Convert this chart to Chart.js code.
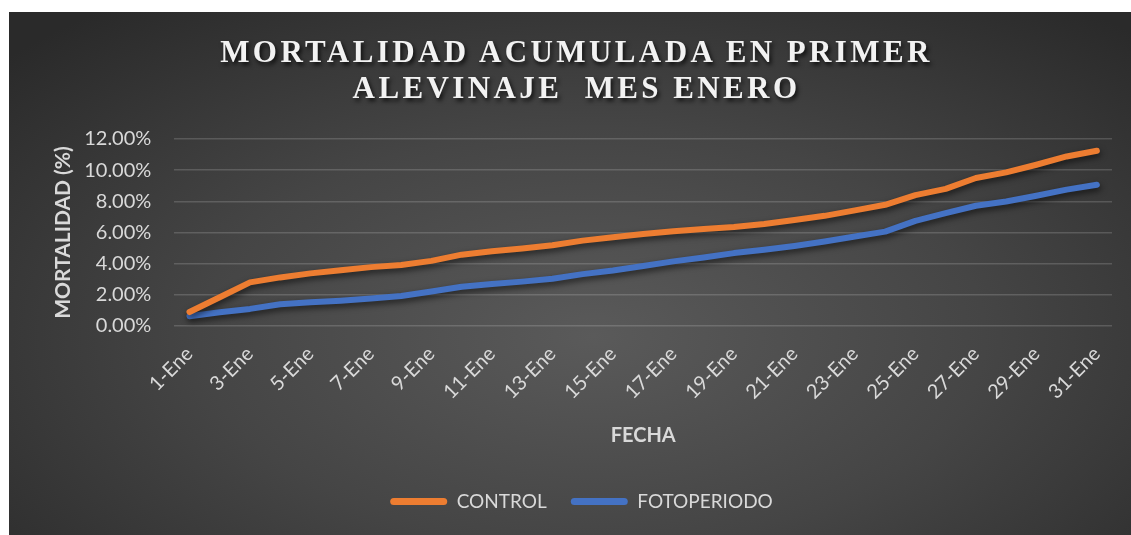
<!DOCTYPE html>
<html>
<head>
<meta charset="utf-8">
<script src="https://cdn.jsdelivr.net/npm/chart.js@4.4.1/dist/chart.umd.min.js"></script>
<style>
    html, body { margin: 0; padding: 0; background: #ffffff; }
    #panel {
        position: absolute; left: 9px; top: 12px; width: 1122px; height: 523px;
        background: radial-gradient(ellipse 70% 80% at 52% 62%, #5a5a5a 0%, #454545 50%, #2a2a2a 100%);
        overflow: hidden;
    }
    #titulo {
        position: absolute; left: 0; top: 22px; width: 1135px; text-align: center;
        font-family: "Liberation Serif", "Times New Roman", serif; font-weight: bold;
        font-size: 31px; line-height: 36px; letter-spacing: 3.4px; color: #f2f2f2;
        text-shadow: 2px 3px 4px rgba(0, 0, 0, 0.75); white-space: pre;
    }
    canvas { position: absolute; left: 0; top: 0; }
</style>
</head>
<body>
<div id="panel">
    <canvas id="grafico" width="1122" height="523"></canvas>
    <div id="titulo">MORTALIDAD ACUMULADA EN PRIMER
ALEVINAJE  MES ENERO</div>
</div>
<script>
// datos (mortalidad acumulada, %)
const fechas = ['1-Ene', '2-Ene', '3-Ene', '4-Ene', '5-Ene', '6-Ene', '7-Ene', '8-Ene', '9-Ene', '10-Ene',
    '11-Ene', '12-Ene', '13-Ene', '14-Ene', '15-Ene', '16-Ene', '17-Ene', '18-Ene', '19-Ene', '20-Ene',
    '21-Ene', '22-Ene', '23-Ene', '24-Ene', '25-Ene', '26-Ene', '27-Ene', '28-Ene', '29-Ene', '30-Ene', '31-Ene'];
const control = [0.90, 1.85, 2.80, 3.12, 3.38, 3.58, 3.78, 3.92, 4.18, 4.58,
    4.80, 4.98, 5.18, 5.48, 5.70, 5.90, 6.08, 6.22, 6.35, 6.55,
    6.80, 7.07, 7.42, 7.78, 8.40, 8.80, 9.50, 9.86, 10.35, 10.88, 11.25];
const fotoperiodo = [0.63, 0.88, 1.10, 1.40, 1.52, 1.63, 1.77, 1.93, 2.22, 2.52,
    2.70, 2.85, 3.03, 3.33, 3.56, 3.85, 4.15, 4.40, 4.68, 4.90,
    5.14, 5.42, 5.74, 6.06, 6.75, 7.25, 7.72, 7.99, 8.36, 8.75, 9.07];
const ticksY = [0, 2, 4, 6, 8, 10, 12];

const texto = '#d9d9d9';

// sombra bajo las líneas, como en Excel
const sombra = {
    id: 'sombra',
    beforeDatasetDraw(chart) {
        const c = chart.ctx;
        c.save();
        c.shadowColor = 'rgba(0, 0, 0, 0.6)';
        c.shadowBlur = 6;
        c.shadowOffsetX = 1;
        c.shadowOffsetY = 3;
    },
    afterDatasetDraw(chart) {
        chart.ctx.restore();
    }
};

new Chart(document.getElementById('grafico'), {
    type: 'line',
    data: {
        labels: fechas,
        datasets: [
            {
                label: 'CONTROL',
                data: control,
                borderColor: '#ED7D31',
                backgroundColor: '#ED7D31',
                borderWidth: 6,
                pointRadius: 0,
                borderCapStyle: 'round',
                borderJoinStyle: 'round',
                tension: 0
            },
            {
                label: 'FOTOPERIODO',
                data: fotoperiodo,
                borderColor: '#4472C4',
                backgroundColor: '#4472C4',
                borderWidth: 6,
                pointRadius: 0,
                borderCapStyle: 'round',
                borderJoinStyle: 'round',
                tension: 0
            }
        ]
    },
    options: {
        responsive: false,
        animation: false,
        layout: {
            padding: { top: 127, right: 19, bottom: 14, left: 42 }
        },
        plugins: {
            title: { display: false },
            tooltip: { enabled: false },
            legend: {
                position: 'bottom',
                labels: {
                    color: texto,
                    font: { family: 'Lato', size: 19 },
                    boxWidth: 57,
                    boxHeight: 7,
                    padding: 24,
                    useBorderRadius: true,
                    borderRadius: 3.5,
                    generateLabels: function(chart) {
                        return Chart.defaults.plugins.legend.labels.generateLabels(chart).map(function(l) {
                            l.lineWidth = 0;
                            return l;
                        });
                    }
                }
            }
        },
        scales: {
            x: {
                offset: true,
                grid: { display: false },
                border: { display: false },
                ticks: {
                    color: texto,
                    font: { family: 'Lato', size: 20 },
                    autoSkip: false,
                    maxRotation: 45,
                    minRotation: 45,
                    padding: 8,
                    callback: function(value, index) {
                        return index % 2 === 0 ? fechas[index] : '';
                    }
                },
                title: {
                    display: true,
                    text: 'FECHA',
                    color: texto,
                    font: { family: 'Lato', size: 20, weight: 'bold' },
                    padding: { top: 12, bottom: 20 }
                }
            },
            y: {
                min: 0,
                max: 12,
                afterBuildTicks: function(axis) {
                    axis.ticks = ticksY.map(v => ({ value: v }));
                },
                grid: { color: 'rgba(255, 255, 255, 0.16)', lineWidth: 1.5, drawTicks: false },
                border: { display: false },
                ticks: {
                    color: texto,
                    font: { family: 'Lato', size: 20 },
                    padding: 23,
                    callback: function(value) {
                        return value.toFixed(2) + '%';
                    }
                },
                title: {
                    display: true,
                    text: 'MORTALIDAD (%)',
                    color: texto,
                    font: { family: 'Lato', size: 21, weight: 'bold' },
                    padding: { top: 0, bottom: -15 }
                }
            }
        }
    },
    plugins: [sombra]
});
</script>
</body>
</html>
